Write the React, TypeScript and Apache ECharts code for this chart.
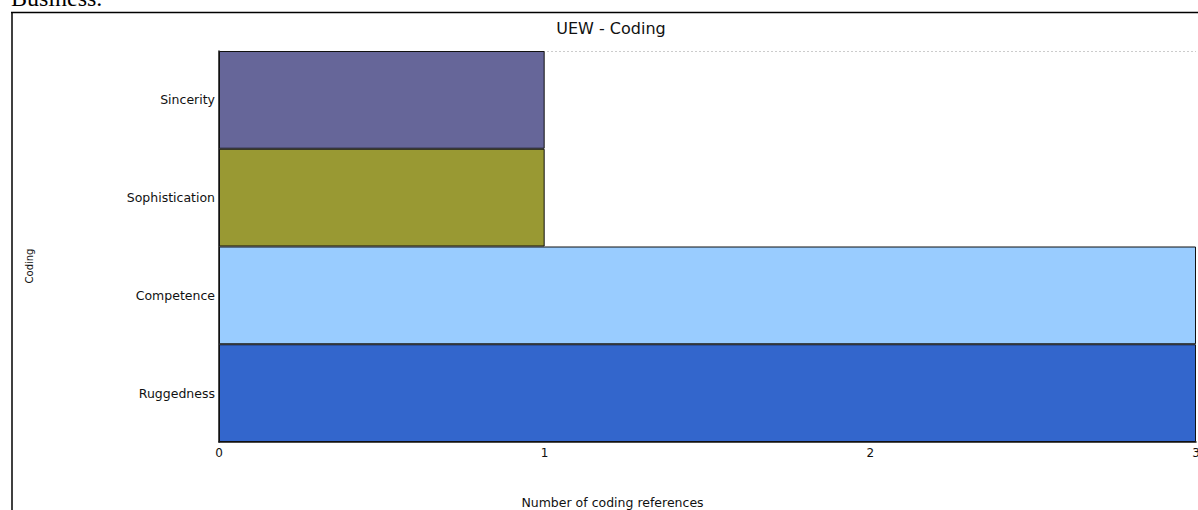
import React, { useEffect, useRef } from "react";
import * as echarts from "echarts";

const categories = ["Ruggedness", "Competence", "Sophistication", "Sincerity"];
const values = [3, 3, 1, 1];
const barColors = ["#3366CC", "#99CCFF", "#999933", "#666699"];
const xTicks = [0, 1, 2, 3];

export default function App() {
  const ref = useRef<HTMLDivElement>(null);
  useEffect(() => {
    if (!ref.current) return;
    const chart = echarts.init(ref.current, undefined, { renderer: "svg" });
    chart.setOption({
      animation: false,
      backgroundColor: "#ffffff",
      grid: { left: 219, right: 2, top: 51, bottom: 68, containLabel: false, outerBoundsMode: "none" },
      xAxis: {
        type: "value",
        min: xTicks[0],
        max: xTicks[xTicks.length - 1],
        interval: 1,
        name: "Number of coding references",
        nameLocation: "middle",
        nameGap: 54,
        nameTextStyle: { fontFamily: "DejaVu Sans", fontSize: 12.5, color: "#111", padding: [0, 190, 0, 0] },
        axisLine: { show: true, lineStyle: { color: "#111", width: 1.5 } },
        axisTick: { show: false },
        splitLine: { show: false },
        axisLabel: { fontFamily: "DejaVu Sans", fontSize: 12, color: "#111", margin: 5 },
      },
      yAxis: {
        type: "category",
        data: categories,
        axisLine: { show: true, lineStyle: { color: "#111", width: 1.5 } },
        axisTick: { show: false },
        splitLine: { show: false },
        axisLabel: { fontFamily: "DejaVu Sans", fontSize: 12.5, color: "#111", margin: 4 },
      },
      graphic: [
        { type: "line", shape: { x1: 12, y1: 12, x2: 12, y2: 510 }, style: { stroke: "#000", lineWidth: 1.5 } },
        { type: "line", shape: { x1: 11, y1: 12.5, x2: 1198, y2: 12.5 }, style: { stroke: "#000", lineWidth: 1.5 } },
        { type: "line", shape: { x1: 219, y1: 51.5, x2: 1196, y2: 51.5 }, style: { stroke: "#cccccc", lineWidth: 1, lineDash: [2, 2] } },
        {
          type: "text", x: 11, y: -2,
          style: { text: "Business.", font: "24px 'Liberation Serif', serif", fill: "#000", align: "left", verticalAlign: "middle" },
        },
        {
          type: "text", x: 611, y: 28,
          style: { text: "UEW - Coding", font: "16px 'DejaVu Sans'", fill: "#111", align: "center", verticalAlign: "middle" },
        },
        {
          type: "text", x: 29, y: 266, rotation: Math.PI / 2,
          style: { text: "Coding", font: "10px 'DejaVu Sans'", fill: "#111", align: "center", verticalAlign: "middle" },
        },
      ],
      series: [
        {
          type: "bar",
          barWidth: "100%",
          barCategoryGap: 0,
          data: values.map((v, i) => ({ value: v, itemStyle: { color: barColors[i] } })),
          itemStyle: { borderColor: "#111", borderWidth: 1 },
        },
      ],
    });
    return () => chart.dispose();
  }, []);
  return <div ref={ref} style={{ position: "absolute", left: 0, top: 0, width: 1198, height: 510 }} />;
}
